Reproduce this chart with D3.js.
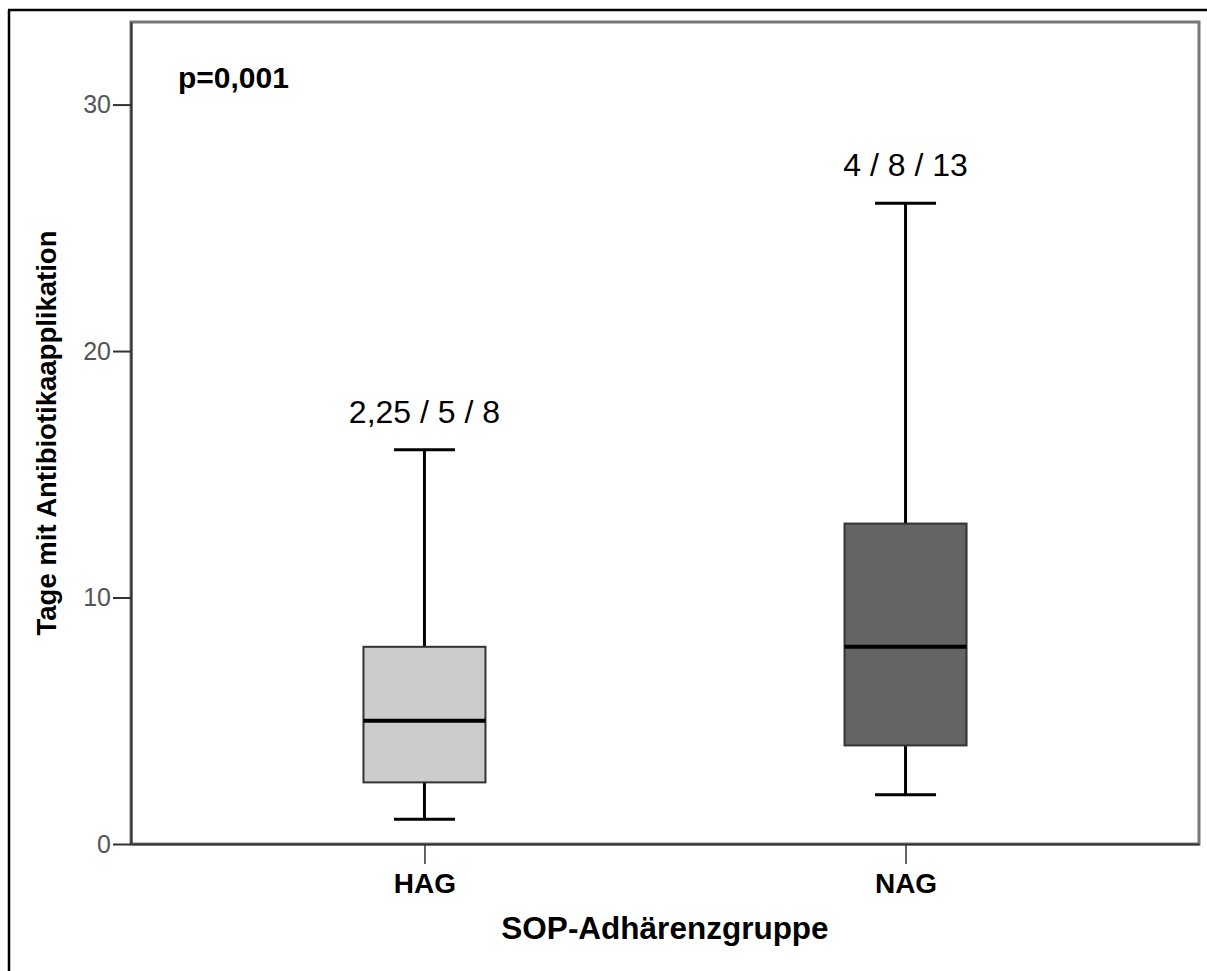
<!DOCTYPE html>
<html>
<head>
<meta charset="utf-8">
<script src="https://cdn.jsdelivr.net/npm/d3@7"></script>
<style>
    body { margin: 0; background: #fff; }
    svg { display: block; font-family: "Liberation Sans", Arial, sans-serif; }
</style>
</head>
<body>
<div id="chart"></div>
<script>
const groups = ["HAG", "NAG"];
const whiskerLow = [1, 2];
const q1 = [2.5, 4];
const median = [5, 8];
const q3 = [8, 13];
const whiskerHigh = [16, 26];
const boxLabels = ["2,25 / 5 / 8", "4 / 8 / 13"];
const boxFills = ["#cccccc", "#646464"];
const yTicks = [0, 10, 20, 30];

function renderBoxPlot(selector) {
    const width = 1207;
    const height = 971;
    const margin = { top: 22, right: 8, bottom: 127, left: 131 };
    const plotW = width - margin.left - margin.right;
    const plotH = height - margin.top - margin.bottom;

    const data = groups.map((g, i) => ({
        group: g,
        lo: whiskerLow[i],
        q1: q1[i],
        med: median[i],
        q3: q3[i],
        hi: whiskerHigh[i],
        label: boxLabels[i],
        fill: boxFills[i]
    }));

    const svg = d3.select(selector)
        .append("svg")
        .attr("width", width)
        .attr("height", height);

    // outer frame (top + left only visible)
    svg.append("line")
        .attr("x1", 8).attr("x2", width).attr("y1", 10).attr("y2", 10)
        .attr("stroke", "#000").attr("stroke-width", 2.5);
    svg.append("line")
        .attr("x1", 9).attr("x2", 9).attr("y1", 10).attr("y2", height)
        .attr("stroke", "#000").attr("stroke-width", 2.5);

    const g = svg.append("g")
        .attr("transform", "translate(" + margin.left + "," + margin.top + ")");

    const x = d3.scalePoint()
        .domain(groups)
        .range([0, plotW])
        .padding(0.61);

    const y = d3.scaleLinear()
        .domain([0, 33.35])
        .range([plotH, 0]);

    const boxW = 122;
    const capW = 61;

    // plot frame: top and right in lighter grey
    g.append("rect")
        .attr("x", 0).attr("y", 0)
        .attr("width", plotW).attr("height", plotH)
        .attr("fill", "none")
        .attr("stroke", "#777")
        .attr("stroke-width", 3);

    // y axis
    const yAxis = g.append("g")
        .call(d3.axisLeft(y).tickValues(yTicks).tickSize(18).tickSizeOuter(0).tickPadding(2).tickFormat(d3.format("d")));
    yAxis.select(".domain").attr("stroke", "#333").attr("stroke-width", 2);
    yAxis.selectAll(".tick line").attr("stroke", "#333").attr("stroke-width", 2);
    yAxis.selectAll(".tick text")
        .attr("fill", "#555")
        .style("font-size", "25px")
        .style("font-family", "'Liberation Sans', Arial, sans-serif");

    // x axis
    const xAxis = g.append("g")
        .attr("transform", "translate(0," + plotH + ")")
        .call(d3.axisBottom(x).tickSize(20).tickSizeOuter(0).tickPadding(9));
    xAxis.select(".domain").attr("stroke", "#333").attr("stroke-width", 2);
    xAxis.selectAll(".tick line").attr("stroke", "#333").attr("stroke-width", 1.5);
    xAxis.selectAll(".tick text")
        .attr("fill", "#000")
        .style("font-size", "28px")
        .style("font-weight", "bold")
        .style("font-family", "'Liberation Sans', Arial, sans-serif");

    const box = g.selectAll(".box")
        .data(data)
        .enter().append("g")
        .attr("class", "box")
        .attr("transform", d => "translate(" + x(d.group) + ",0)");

    // whiskers
    box.append("line")
        .attr("x1", 0).attr("x2", 0)
        .attr("y1", d => y(d.hi)).attr("y2", d => y(d.q3))
        .attr("stroke", "#000").attr("stroke-width", 3);
    box.append("line")
        .attr("x1", 0).attr("x2", 0)
        .attr("y1", d => y(d.q1)).attr("y2", d => y(d.lo))
        .attr("stroke", "#000").attr("stroke-width", 3);
    box.append("line")
        .attr("x1", -capW / 2).attr("x2", capW / 2)
        .attr("y1", d => y(d.hi)).attr("y2", d => y(d.hi))
        .attr("stroke", "#000").attr("stroke-width", 3);
    box.append("line")
        .attr("x1", -capW / 2).attr("x2", capW / 2)
        .attr("y1", d => y(d.lo)).attr("y2", d => y(d.lo))
        .attr("stroke", "#000").attr("stroke-width", 3);

    // box
    box.append("rect")
        .attr("x", -boxW / 2)
        .attr("width", boxW)
        .attr("y", d => y(d.q3))
        .attr("height", d => y(d.q1) - y(d.q3))
        .attr("fill", d => d.fill)
        .attr("stroke", "#333")
        .attr("stroke-width", 2);

    // median
    box.append("line")
        .attr("x1", -boxW / 2).attr("x2", boxW / 2)
        .attr("y1", d => y(d.med)).attr("y2", d => y(d.med))
        .attr("stroke", "#000").attr("stroke-width", 4);

    // quartile labels
    box.append("text")
        .attr("x", 0)
        .attr("y", d => y(d.hi) - 27)
        .attr("text-anchor", "middle")
        .style("font-size", "32px")
        .text(d => d.label);

    g.append("text")
        .attr("x", 47)
        .attr("y", 66)
        .style("font-size", "30px")
        .style("font-weight", "bold")
        .text("p=0,001");

    // axis titles
    svg.append("text")
        .attr("x", margin.left + plotW / 2)
        .attr("y", 939)
        .attr("text-anchor", "middle")
        .style("font-size", "31.5px")
        .style("font-weight", "bold")
        .text("SOP-Adhärenzgruppe");

    svg.append("text")
        .attr("transform", "translate(56," + (margin.top + plotH / 2) + ") rotate(-90)")
        .attr("text-anchor", "middle")
        .style("font-size", "27.5px")
        .style("font-weight", "bold")
        .text("Tage mit Antibiotikaapplikation");
}

renderBoxPlot("#chart");
</script>
</body>
</html>
